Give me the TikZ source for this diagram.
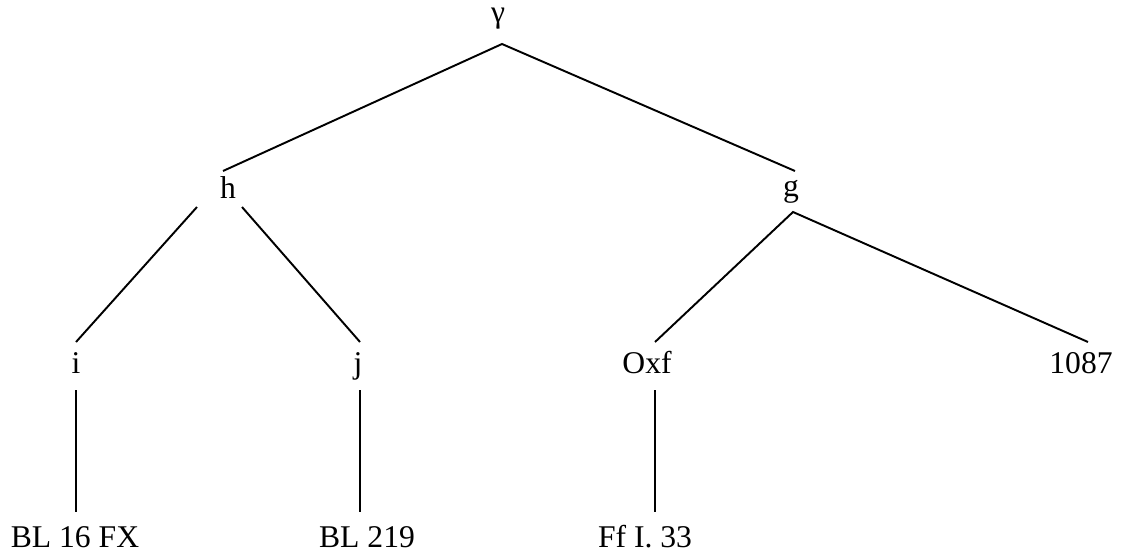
\documentclass[tikz,border=0pt]{standalone}
\usepackage{fontspec}
\setmainfont{Liberation Serif}
\usepackage{tikz}
\tikzset{
    ms/.style={anchor=base, inner sep=0pt, font=\fontsize{18}{20}\selectfont},
    branch/.style={line width=1.1pt}
}

\begin{document}
\begin{tikzpicture}[x=0.02cm, y=-0.02cm]
\useasboundingbox (0,0) rectangle (1121,551);
% witnesses
\node[ms] (gamma) at (498,22) {γ};
\node[ms] (h) at (228,198) {h};
\node[ms] (g) at (791,196) {g};
\node[ms] (i) at (76,373) {i};
\node[ms] (j) at (358,373) {j};
\node[ms] (oxf) at (647,373) {Oxf};
\node[ms] (n1087) at (1081,373) {1087};
\node[ms] (bl16) at (75,547) {BL 16 FX};
\node[ms] (bl219) at (367,547) {BL 219};
\node[ms] (ff) at (645,547) {Ff I. 33};

% branches
\draw[branch] ([shift={(-5,-27)}]h.base) -- ([shift={(4,22)}]gamma.base) -- ([shift={(4,-25)}]g.base);
\draw[branch] ([shift={(-31,9)}]h.base) -- ([shift={(0,-31)}]i.base);
\draw[branch] ([shift={(14,9)}]h.base) -- ([shift={(2,-31)}]j.base);
\draw[branch] ([shift={(8,-31)}]oxf.base) -- ([shift={(2,16)}]g.base) -- ([shift={(7,-31)}]n1087.base);
\draw[branch] ([shift={(0,17)}]i.base) -- ([shift={(1,-35)}]bl16.base);
\draw[branch] ([shift={(2,17)}]j.base) -- ([shift={(-7,-35)}]bl219.base);
\draw[branch] ([shift={(8,17)}]oxf.base) -- ([shift={(10,-35)}]ff.base);
\end{tikzpicture}
\end{document}
